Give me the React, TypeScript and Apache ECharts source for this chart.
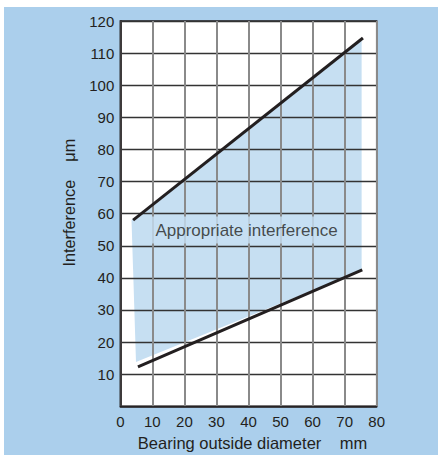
import React, { useEffect, useRef } from "react";
import * as echarts from "echarts";

const upperX = [4, 75.7];
const upperY = [58, 114.7];
const lowerX = [5.5, 75.5];
const lowerY = [12.3, 42.5];
const zoneX = [3.5, 75.3, 75.3, 4.9];
const zoneY = [58, 114.5, 42.3, 13.8];
const labelPos = [39.4, 54.9];
const labelText = "Appropriate interference";

const TEXT = "#231f20";
const SHADE = "#c6dff2";
const BG = "#abcfec";
const FONT = "Liberation Sans, Arial, sans-serif";

export default function App() {
  const ref = useRef<HTMLDivElement>(null);
  useEffect(() => {
    const chart = echarts.init(ref.current!, null, { renderer: "svg" });
    const zone = zoneX.map((x, i) => [x, zoneY[i]]);
    chart.setOption({
      animation: false,
      grid: {
        left: 120.3,
        top: 21,
        right: 438 - 376.7,
        bottom: 455 - 406.3,
        containLabel: false,
        outerBoundsMode: "none",
        show: true,
        backgroundColor: "#ffffff",
        borderColor: TEXT,
        borderWidth: 1.5,
      },
      xAxis: {
        type: "value",
        min: 0,
        max: 80,
        interval: 10,
        z: 3,
        name: "Bearing outside diameter    mm",
        nameLocation: "middle",
        nameGap: 27,
        nameTextStyle: {
          color: TEXT,
          fontSize: 16.5,
          fontFamily: FONT,
          padding: [0, 0, 0, 8],
        },
        axisLine: { show: true, lineStyle: { color: TEXT, width: 1.5 } },
        axisTick: { show: false },
        axisLabel: { color: TEXT, fontSize: 15, margin: 8, fontFamily: FONT },
        splitLine: { show: true, lineStyle: { color: "#8a8a8a", width: 2 } },
      },
      yAxis: {
        type: "value",
        min: 0,
        max: 120,
        interval: 10,
        z: 3,
        name: "Interference    μm",
        nameLocation: "middle",
        nameGap: 43,
        nameTextStyle: {
          color: TEXT,
          fontSize: 16.3,
          fontFamily: FONT,
          padding: [0, 0, 0, 22],
        },
        axisLine: { show: true, lineStyle: { color: TEXT, width: 1.5 } },
        axisTick: { show: false },
        axisLabel: {
          color: TEXT,
          fontSize: 15,
          margin: 6,
          showMinLabel: false,
          fontFamily: FONT,
        },
        splitLine: { show: true, lineStyle: { color: "#333333", width: 1.3 } },
      },
      series: [
        {
          type: "custom",
          z: 1,
          data: [0],
          renderItem: (params: any, api: any) => ({
            type: "polygon",
            shape: { points: zone.map((p) => api.coord(p)) },
            style: { fill: SHADE },
          }),
        },
        {
          type: "line",
          z: 6,
          data: upperX.map((x, i) => [x, upperY[i]]),
          symbol: "none",
          lineStyle: { color: TEXT, width: 3 },
        },
        {
          type: "line",
          z: 6,
          data: lowerX.map((x, i) => [x, lowerY[i]]),
          symbol: "none",
          lineStyle: { color: TEXT, width: 3 },
        },
        {
          type: "scatter",
          z: 5,
          symbolSize: 0,
          data: [labelPos],
          label: {
            show: true,
            position: "inside",
            formatter: labelText,
            color: TEXT,
            fontSize: 17,
            fontFamily: FONT,
            backgroundColor: SHADE,
            padding: [5, 5, 5, 5],
          },
        },
      ],
    });
    return () => chart.dispose();
  }, []);
  return (
    <div
      style={{
        position: "fixed",
        left: 0,
        top: 0,
        width: 438,
        height: 455,
        background: "#ffffff",
      }}
    >
      <div
        style={{
          position: "absolute",
          left: 4,
          top: 7,
          right: 0,
          bottom: 0,
          background: BG,
        }}
      />
      <div
        ref={ref}
        style={{ position: "absolute", left: 0, top: 0, width: 438, height: 455 }}
      />
    </div>
  );
}
